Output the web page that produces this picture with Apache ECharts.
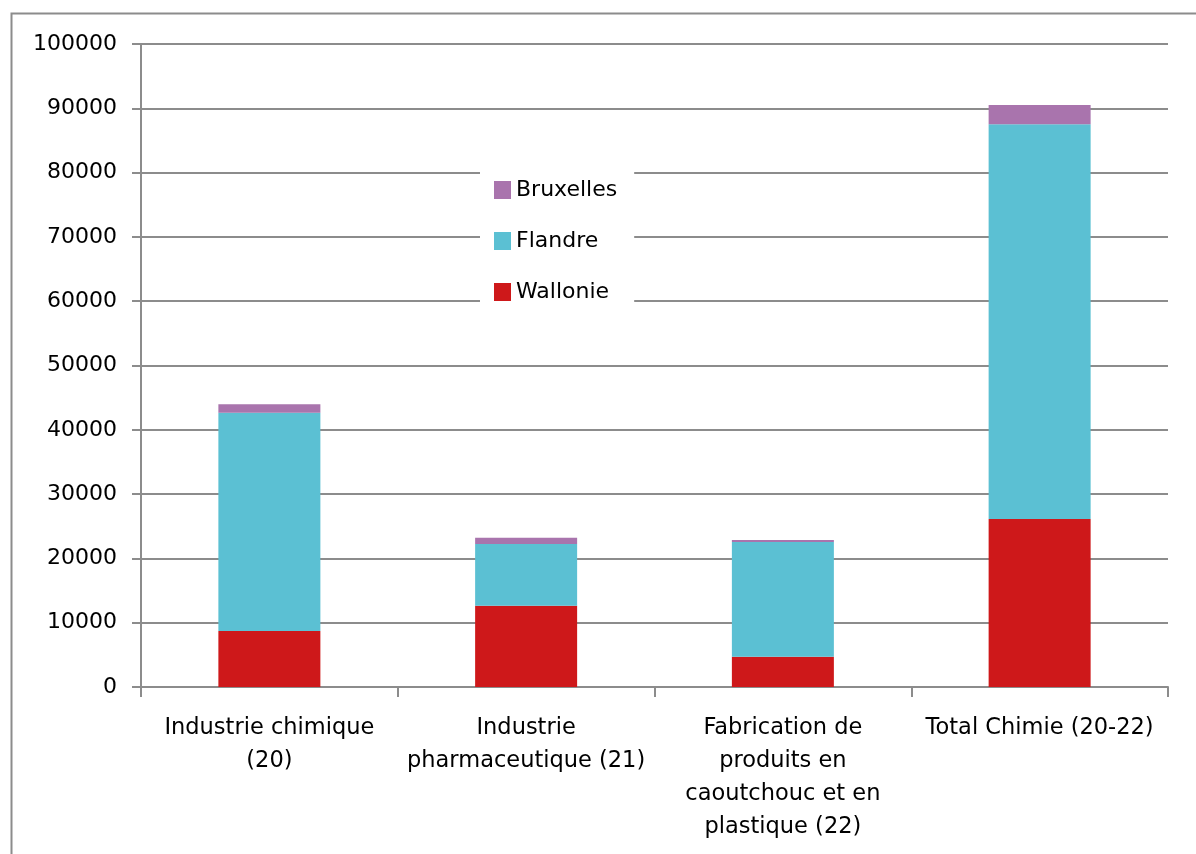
<!DOCTYPE html>
<html>
<head>
<meta charset="utf-8">
<script src="https://cdn.jsdelivr.net/npm/echarts@6.0.0/dist/echarts.min.js"></script>
<style>
  html, body { margin: 0; padding: 0; background: #fff; }
  #chart { width: 1196px; height: 854px; }
</style>
</head>
<body>
<div id="chart"></div>
<script>
const categories = [
  'Industrie chimique\n(20)',
  'Industrie\npharmaceutique (21)',
  'Fabrication de\nproduits en\ncaoutchouc et en\nplastique (22)',
  'Total Chimie (20-22)'
];
const wallonie = [8710, 12640, 4710, 26130];
const flandre = [33950, 9600, 17840, 61380];
const bruxelles = [1310, 980, 310, 3000];

const yTicks = { min: 0, max: 100000, interval: 10000 };

const axisGray = '#8c8c8c';
const fontFamily = '"DejaVu Sans", sans-serif';

const chart = echarts.init(document.getElementById('chart'));

function barSeries(name, data, color) {
  return {
    name: name,
    type: 'bar',
    stack: 'total',
    data: data,
    barWidth: 102,
    itemStyle: { color: color },
    emphasis: { disabled: true }
  };
}

chart.setOption({
  animation: false,
  textStyle: { fontFamily: fontFamily },
  graphic: [{
    type: 'rect',
    shape: { x: 11.5, y: 13.5, width: 1200, height: 900 },
    style: { fill: 'none', stroke: axisGray, lineWidth: 2 },
    silent: true
  }],
  grid: { left: 141, right: 28, top: 44, bottom: 167 },
  legend: {
    orient: 'vertical',
    left: 480,
    top: 163,
    data: ['Bruxelles', 'Flandre', 'Wallonie'],
    backgroundColor: '#fff',
    padding: [16, 17, 12, 14],
    itemWidth: 17,
    itemHeight: 18,
    itemGap: 33 - 4,
    icon: 'rect',
    textStyle: { fontSize: 22, color: '#000', fontFamily: fontFamily, lineHeight: 18 },
    selectedMode: false,
    z: 10
  },
  xAxis: {
    type: 'category',
    data: categories,
    axisLine: { lineStyle: { color: axisGray, width: 2 } },
    axisTick: { show: true, length: 10, lineStyle: { color: axisGray, width: 2 } },
    axisLabel: {
      interval: 0,
      margin: 25,
      fontSize: 22.5,
      lineHeight: 33,
      color: '#000',
      fontFamily: fontFamily
    }
  },
  yAxis: {
    type: 'value',
    min: yTicks.min,
    max: yTicks.max,
    interval: yTicks.interval,
    axisLine: { show: true, lineStyle: { color: axisGray, width: 2 } },
    axisTick: { show: true, length: 9, lineStyle: { color: axisGray, width: 2 } },
    splitLine: { lineStyle: { color: axisGray, width: 2 } },
    axisLabel: {
      margin: 24,
      fontSize: 22,
      color: '#000',
      fontFamily: fontFamily,
      formatter: function (val) {
        return String(val);
      }
    }
  },
  series: [
    barSeries('Wallonie', wallonie, '#ce181a'),
    barSeries('Flandre', flandre, '#5bc0d3'),
    barSeries('Bruxelles', bruxelles, '#a974ad')
  ]
});
</script>
</body>
</html>
